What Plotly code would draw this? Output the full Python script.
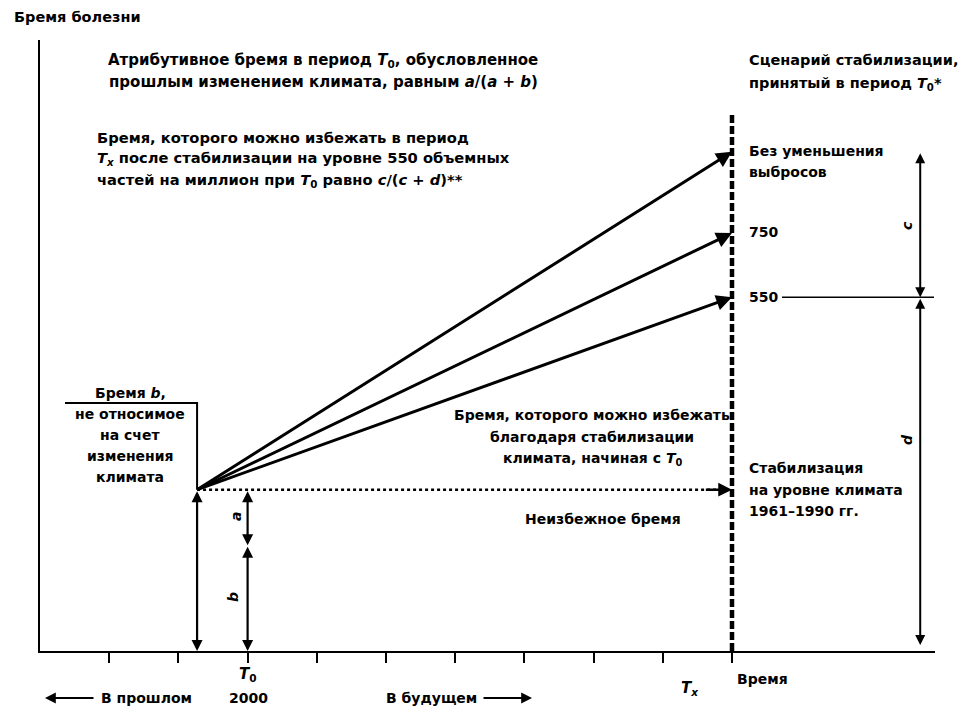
import plotly.graph_objects as go

# ---- data ----
tick_positions = [1, 2, 3, 4, 5, 6, 7, 8, 9, 10]
t0_x = 3            # T0 (2000)
tx_x = 10           # Tx
start_x = 2.27      # moment the scenarios diverge
base_burden = 26.4  # burden level of the unavoidable part
split_ab = 17.3     # split between a and b on T0 line
bracket_b_top = 40.6
tx_line_top = 88.1
scenario_labels = ["Без уменьшения", "750", "550"]
scenario_burden = [81.7, 68.4, 57.9]
right_bracket_x = 12.72

# page geometry (browser adds 8px body margin)
OFF = 8
W, H = 969 - 2 * OFF, 722 - 2 * OFF
P_L, P_R, P_T, P_B = 40, 935, 40, 651          # plot area in page pixels
ML, MT = P_L - OFF, P_T - OFF
MR, MB = W - (P_R - OFF), H - (P_B - OFF)
XPX = 69.2
YPX = (P_B - P_T) / 100.0


def X(px):
    return (px - P_L) / XPX


def Y(py):
    return (P_B - py) / YPX


def XP(px):
    return (px - P_L) / (P_R - P_L)


def YP(py):
    return (P_B - py) / (P_B - P_T)


FAM = "DejaVu Sans"

fig = go.Figure()
fig.add_trace(go.Scatter(x=[0], y=[0], mode="markers", marker=dict(opacity=0), showlegend=False, hoverinfo="skip"))

ann = []


def text(xpx, ypx, t, xanchor="center", size=14, angle=0):
    ann.append(dict(x=XP(xpx), y=YP(ypx), xref="paper", yref="paper", text=t, showarrow=False,
                    xanchor=xanchor, yanchor="middle", textangle=angle, borderpad=0,
                    font=dict(family=FAM, size=size, color="black")))


def lines(xpx, ypx0, items, xanchor="left", step=21.5, size=14):
    for i, t in enumerate(items):
        text(xpx, ypx0 + i * step, "<b>" + t + "</b>", xanchor=xanchor, size=size)


def arrow(x0, y0, x1, y1, width=2.6, both=False, size=1.3):
    d = dict(x=x1, y=y1, ax=x0, ay=y0, xref="x", yref="y", axref="x", ayref="y",
             text="", showarrow=True, arrowhead=2, arrowsize=size, arrowwidth=width,
             arrowcolor="black")
    if both:
        d["arrowside"] = "end+start"
        d["startarrowhead"] = 2
        d["startarrowsize"] = size
    ann.append(d)


# scenario arrows
for b in scenario_burden:
    arrow(start_x, base_burden, tx_x, b, width=3, size=1.05)

# horizontal line (unavoidable burden level)
fig.add_trace(go.Scatter(x=[start_x, tx_x - 0.15], y=[base_burden, base_burden], mode="lines",
                         line=dict(color="black", width=2.5, dash="dot"), showlegend=False, hoverinfo="skip"))
arrow(tx_x - 0.4, base_burden, tx_x, base_burden, width=2.5, size=1.1)

# Tx dashed vertical line
fig.add_trace(go.Scatter(x=[tx_x, tx_x], y=[0, tx_line_top], mode="lines",
                         line=dict(color="black", width=4.5, dash="8px,3px"), showlegend=False, hoverinfo="skip"))

# vertical double arrows at start and T0
arrow(start_x, base_burden, start_x, 0, width=2.2, both=True, size=1.0)
arrow(t0_x, base_burden, t0_x, split_ab, width=2.2, both=True, size=1.0)
arrow(t0_x, split_ab, t0_x, 0, width=2.2, both=True, size=1.0)

# bracket for "Бремя b"
fig.add_trace(go.Scatter(x=[X(65), start_x, start_x], y=[bracket_b_top, bracket_b_top, base_burden],
                         mode="lines", line=dict(color="black", width=2), showlegend=False, hoverinfo="skip"))

# right bracket c / d
arrow(right_bracket_x, scenario_burden[0], right_bracket_x, scenario_burden[2], width=2, both=True, size=1.0)
arrow(right_bracket_x, scenario_burden[2], right_bracket_x, 1.0, width=2, both=True, size=1.0)
fig.add_trace(go.Scatter(x=[X(782), X(934)], y=[scenario_burden[2], scenario_burden[2]], mode="lines",
                         line=dict(color="black", width=1.5), showlegend=False, hoverinfo="skip"))

# ---- texts ----
text(13, 17, "<b>Бремя болезни</b>", xanchor="left", size=14.5)
lines(323, 60, ["Атрибутивное бремя в период <i>T</i><sub>0</sub>, обусловленное",
                "прошлым изменением климата, равным <i>a</i>/(<i>a</i> + <i>b</i>)"], xanchor="center", step=22,
      size=15)
lines(96, 137, ["Бремя, которого можно избежать в период",
                "<i>T</i><sub><i>x</i></sub> после стабилизации на уровне 550 объемных",
                "частей на миллион при <i>T</i><sub>0</sub> равно <i>c</i>/(<i>c</i> + <i>d</i>)**"], step=21.5,
      size=14.7)
lines(748, 60, ["Сценарий стабилизации,", "принятый в период <i>T</i><sub>0</sub>*"], step=24, size=14.5)
lines(748, 151, [scenario_labels[0], "выбросов"], step=21)
lines(748, 232, [scenario_labels[1]])
lines(748, 297, [scenario_labels[2]])
lines(130, 393, ["Бремя <i>b</i>,"], xanchor="center")
lines(130, 414, ["не относимое", "на счет", "изменения", "климата"], xanchor="center", step=21)
lines(592, 415, ["Бремя, которого можно избежать", "благодаря стабилизации",
                 "климата, начиная с <i>T</i><sub>0</sub>"], xanchor="center", step=22)
lines(603, 519, ["Неизбежное бремя"], xanchor="center")
lines(748, 468, ["Стабилизация", "на уровне климата", "1961–1990 гг."], step=21.5)

text(236, 517, "<b><i>a</i></b>", angle=-90)
text(233, 597, "<b><i>b</i></b>", angle=-90)
text(907, 226, "<b><i>c</i></b>", angle=-90)
text(907, 440, "<b><i>d</i></b>", angle=-90)

text(248, 675, "<b><i>T</i><sub>0</sub></b>", size=15)
text(248, 698, "<b>2000</b>")
text(690, 689, "<b><i>T</i><sub><i>x</i></sub></b>", size=15)
text(762, 679, "<b>Время</b>")
text(100, 698, "<b>В прошлом</b>", xanchor="left")
text(385, 698, "<b>В будущем</b>", xanchor="left")

# direction arrows below the axis
ann.append(dict(x=XP(45), y=YP(698), xref="paper", yref="paper", ax=50, ay=0, text="",
                showarrow=True, arrowhead=2, arrowsize=1.2, arrowwidth=1.8, arrowcolor="black"))
ann.append(dict(x=XP(532), y=YP(698), xref="paper", yref="paper", ax=-50, ay=0, text="",
                showarrow=True, arrowhead=2, arrowsize=1.2, arrowwidth=1.8, arrowcolor="black"))

fig.update_layout(
    width=W, height=H, margin=dict(l=ML, r=MR, t=MT, b=MB),
    paper_bgcolor="white", plot_bgcolor="white", showlegend=False,
    annotations=ann, font=dict(family=FAM, size=14, color="black"),
    xaxis=dict(range=[0, (P_R - P_L) / XPX], showgrid=False, zeroline=False,
               showline=True, linecolor="black", linewidth=2,
               tickmode="array", tickvals=tick_positions, ticktext=[""] * len(tick_positions),
               ticks="outside", ticklen=10, tickwidth=2, tickcolor="black", fixedrange=True),
    yaxis=dict(range=[0, 100], showgrid=False, zeroline=False, showline=True,
               linecolor="black", linewidth=2, showticklabels=False, ticks="", fixedrange=True),
)

fig.write_html("out.html")
